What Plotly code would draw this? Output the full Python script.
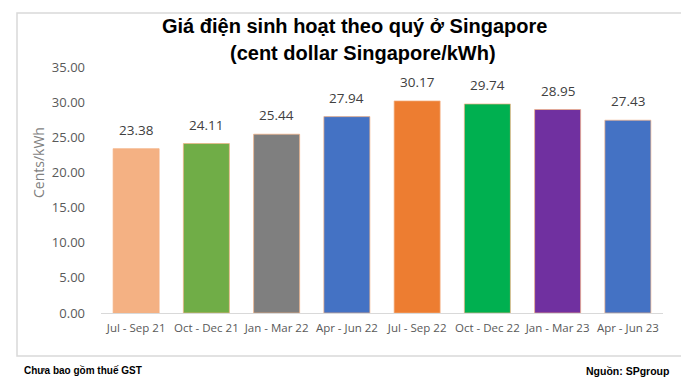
import plotly.graph_objects as go

categories = ["Jul - Sep 21", "Oct - Dec 21", "Jan - Mar 22", "Apr - Jun 22",
              "Jul - Sep 22", "Oct - Dec 22", "Jan - Mar 23", "Apr - Jun 23"]
values = [23.38, 24.11, 25.44, 27.94, 30.17, 29.74, 28.95, 27.43]
bar_colors = ["#F4B183", "#70AD47", "#7F7F7F", "#4472C4",
              "#ED7D31", "#00B050", "#7030A0", "#4472C4"]
y_ticks = [0, 5, 10, 15, 20, 25, 30, 35]

W, H = 689, 377
L, R, T, B = 93, 655, 59, 305

def px(x):
    return (x - L) / (R - L)

def py(y):
    return (B - y) / (B - T)

fig = go.Figure()
fig.add_trace(go.Bar(
    x=categories, y=values,
    marker=dict(color=bar_colors, line=dict(color="rgba(244,177,131,0.7)", width=1)),
    hoverinfo="skip",
))

annotations = [
    dict(x=c, y=v, xref="x", yref="y", text=f"{v:.2f}", showarrow=False,
         yanchor="bottom", yshift=8,
         font=dict(family="Open Sans", size=13.5, color="#404040"))
    for c, v in zip(categories, values)
]

annotations += [
    dict(text="Giá điện sinh hoạt theo quý ở Singapore", xref="paper", yref="paper",
         x=px(346), y=py(18), xanchor="center", yanchor="middle", showarrow=False,
         font=dict(family="Liberation Sans", size=20, color="#000000", weight="bold")),
    dict(text="(cent dollar Singapore/kWh)", xref="paper", yref="paper",
         x=px(355), y=py(45), xanchor="center", yanchor="middle", showarrow=False,
         font=dict(family="Liberation Sans", size=20, color="#000000", weight="bold")),
    dict(text="Cents/kWh", xref="paper", yref="paper",
         x=px(30), y=py(155), xanchor="center", yanchor="middle", showarrow=False,
         textangle=-90,
         font=dict(family="Open Sans", size=14, color="#7F7F7F")),
    dict(text="Chưa bao gồm thuế GST", xref="paper", yref="paper",
         x=px(14), y=py(362), xanchor="left", yanchor="middle", showarrow=False,
         font=dict(family="Liberation Sans", size=10, color="#000000", weight="bold")),
    dict(text="Nguồn: SPgroup", xref="paper", yref="paper",
         x=px(663), y=py(363), xanchor="right", yanchor="middle", showarrow=False,
         font=dict(family="Liberation Sans", size=10.5, color="#000000", weight="bold")),
]

fig.update_layout(
    width=W, height=H,
    margin=dict(l=L, r=W - R, t=T, b=H - B),
    paper_bgcolor="white", plot_bgcolor="white",
    bargap=0.345,
    showlegend=False,
    xaxis=dict(
        showline=True, linecolor="#D9D9D9", linewidth=1,
        showgrid=False, ticks="",
        tickfont=dict(family="Open Sans", size=11.5, color="#595959"),
        ticklabelstandoff=4,
    ),
    yaxis=dict(
        range=[0, 35],
        tickvals=y_ticks,
        tickformat=".2f",
        showgrid=False, showline=False, zeroline=False, ticks="",
        tickfont=dict(family="Open Sans", size=13, color="#595959"),
        ticklabelstandoff=15,
    ),
    shapes=[dict(
        type="rect", xref="paper", yref="paper",
        x0=px(9), x1=px(680), y0=py(348), y1=py(5),
        line=dict(color="#D9D9D9", width=1.5), layer="below",
    )],
    annotations=annotations,
)

fig.write_html("out.html")
